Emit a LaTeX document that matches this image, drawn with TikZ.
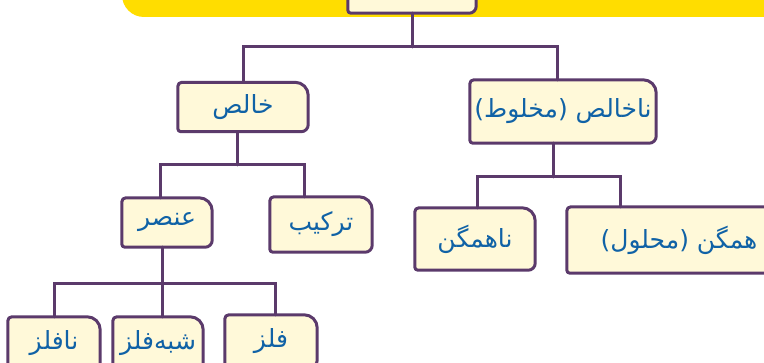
\documentclass[tikz,border=0pt]{standalone}
\usepackage{fontspec}
\newfontfamily\arabicfont[Script=Arabic]{DejaVu Sans}
\TeXXeTstate=1
\usetikzlibrary{backgrounds,calc}
\definecolor{band}{HTML}{FFDD00}
\definecolor{edge}{HTML}{5B3A6B}
\definecolor{boxfill}{HTML}{FFF9D9}
\definecolor{ink}{HTML}{1062A6}
\begin{document}
\begin{tikzpicture}[x=1pt,y=-1pt,
  box/.style={inner sep=0pt, text=ink,
    font=\arabicfont\fontsize{25}{28}\selectfont},
  boxline/.style={draw=edge, fill=boxfill, line width=3pt, line join=round},
  conn/.style={draw=edge, line width=3pt, line cap=round}]
\useasboundingbox (0,0) rectangle (764,363);
% nodes
\node[box, minimum width=128pt, minimum height=40pt] (top) at (412,-7) {};
\node[box, minimum width=130pt, minimum height=49pt] (khalis) at (243,107) {\beginR خالص\endR};
\node[box, minimum width=186pt, minimum height=63pt] (nakhalis) at (563,111.5) {\beginR ناخالص (مخلوط)\endR};
\node[box, minimum width=90pt, minimum height=49pt] (onsor) at (167,222.5) {\beginR عنصر\endR};
\node[box, minimum width=102pt, minimum height=55pt] (tarkib) at (321,224.5) {\beginR ترکیب\endR};
\node[box, minimum width=120pt, minimum height=62pt] (nahamgan) at (475,239) {\beginR ناهمگن\endR};
\node[box, minimum width=210pt, minimum height=66pt] (hamgan) at (672,240) {\hspace{14pt}\beginR همگن (محلول)\endR};
\node[box, minimum width=92pt, minimum height=52pt] (nafelez) at (54,343) {\beginR نافلز\endR};
\node[box, minimum width=90pt, minimum height=52pt] (shebh) at (158,343) {\beginR شبه‌فلز\endR};
\node[box, minimum width=92pt, minimum height=52pt] (felez) at (271,341) {\beginR فلز\endR};
\begin{scope}[on background layer]
\clip (0,0) rectangle (764,363);
\fill[band, rounded corners=22pt] (122,-40) rectangle (800,17);
\foreach \nd in {top,khalis,nakhalis,onsor,tarkib,nahamgan,hamgan,nafelez,shebh,felez}{
  \draw[boxline] let \p1=(\nd.south west), \p2=(\nd.north east) in
    (\x1,\y1+3pt) -- (\x1,\y2-4pt) arc[start angle=180,end angle=90,radius=4pt]
    -- (\x2-13pt,\y2) arc[start angle=90,end angle=0,radius=13pt]
    -- (\x2,\y1+7pt) arc[start angle=0,end angle=-90,radius=7pt]
    -- (\x1+3pt,\y1) arc[start angle=270,end angle=180,radius=3pt] -- cycle;
}
% connectors
\coordinate (j1) at (412,47);
\draw[conn] (top.south) -- (j1);
\draw[conn] (khalis.north) |- (j1);
\draw[conn] ([xshift=-6pt]nakhalis.north) |- (j1);
\coordinate (j2) at (237,165);
\draw[conn] ([xshift=-6pt]khalis.south) -- (j2);
\draw[conn] ([xshift=-7pt]onsor.north) |- (j2);
\draw[conn] ([xshift=-17pt]tarkib.north) |- (j2);
\coordinate (j3) at (553,177);
\draw[conn] ([xshift=-10pt]nakhalis.south) -- (j3);
\draw[conn] ([xshift=2pt]nahamgan.north) |- (j3);
\draw[conn] ([xshift=-52pt]hamgan.north) |- (j3);
\coordinate (j4) at (162,284);
\draw[conn] ([xshift=-5pt]onsor.south) -- (j4);
\draw[conn] (nafelez.north) |- (j4);
\draw[conn] ([xshift=4pt]shebh.north) -- (j4);
\draw[conn] ([xshift=4pt]felez.north) |- (j4);
\end{scope}
\end{tikzpicture}
\end{document}
